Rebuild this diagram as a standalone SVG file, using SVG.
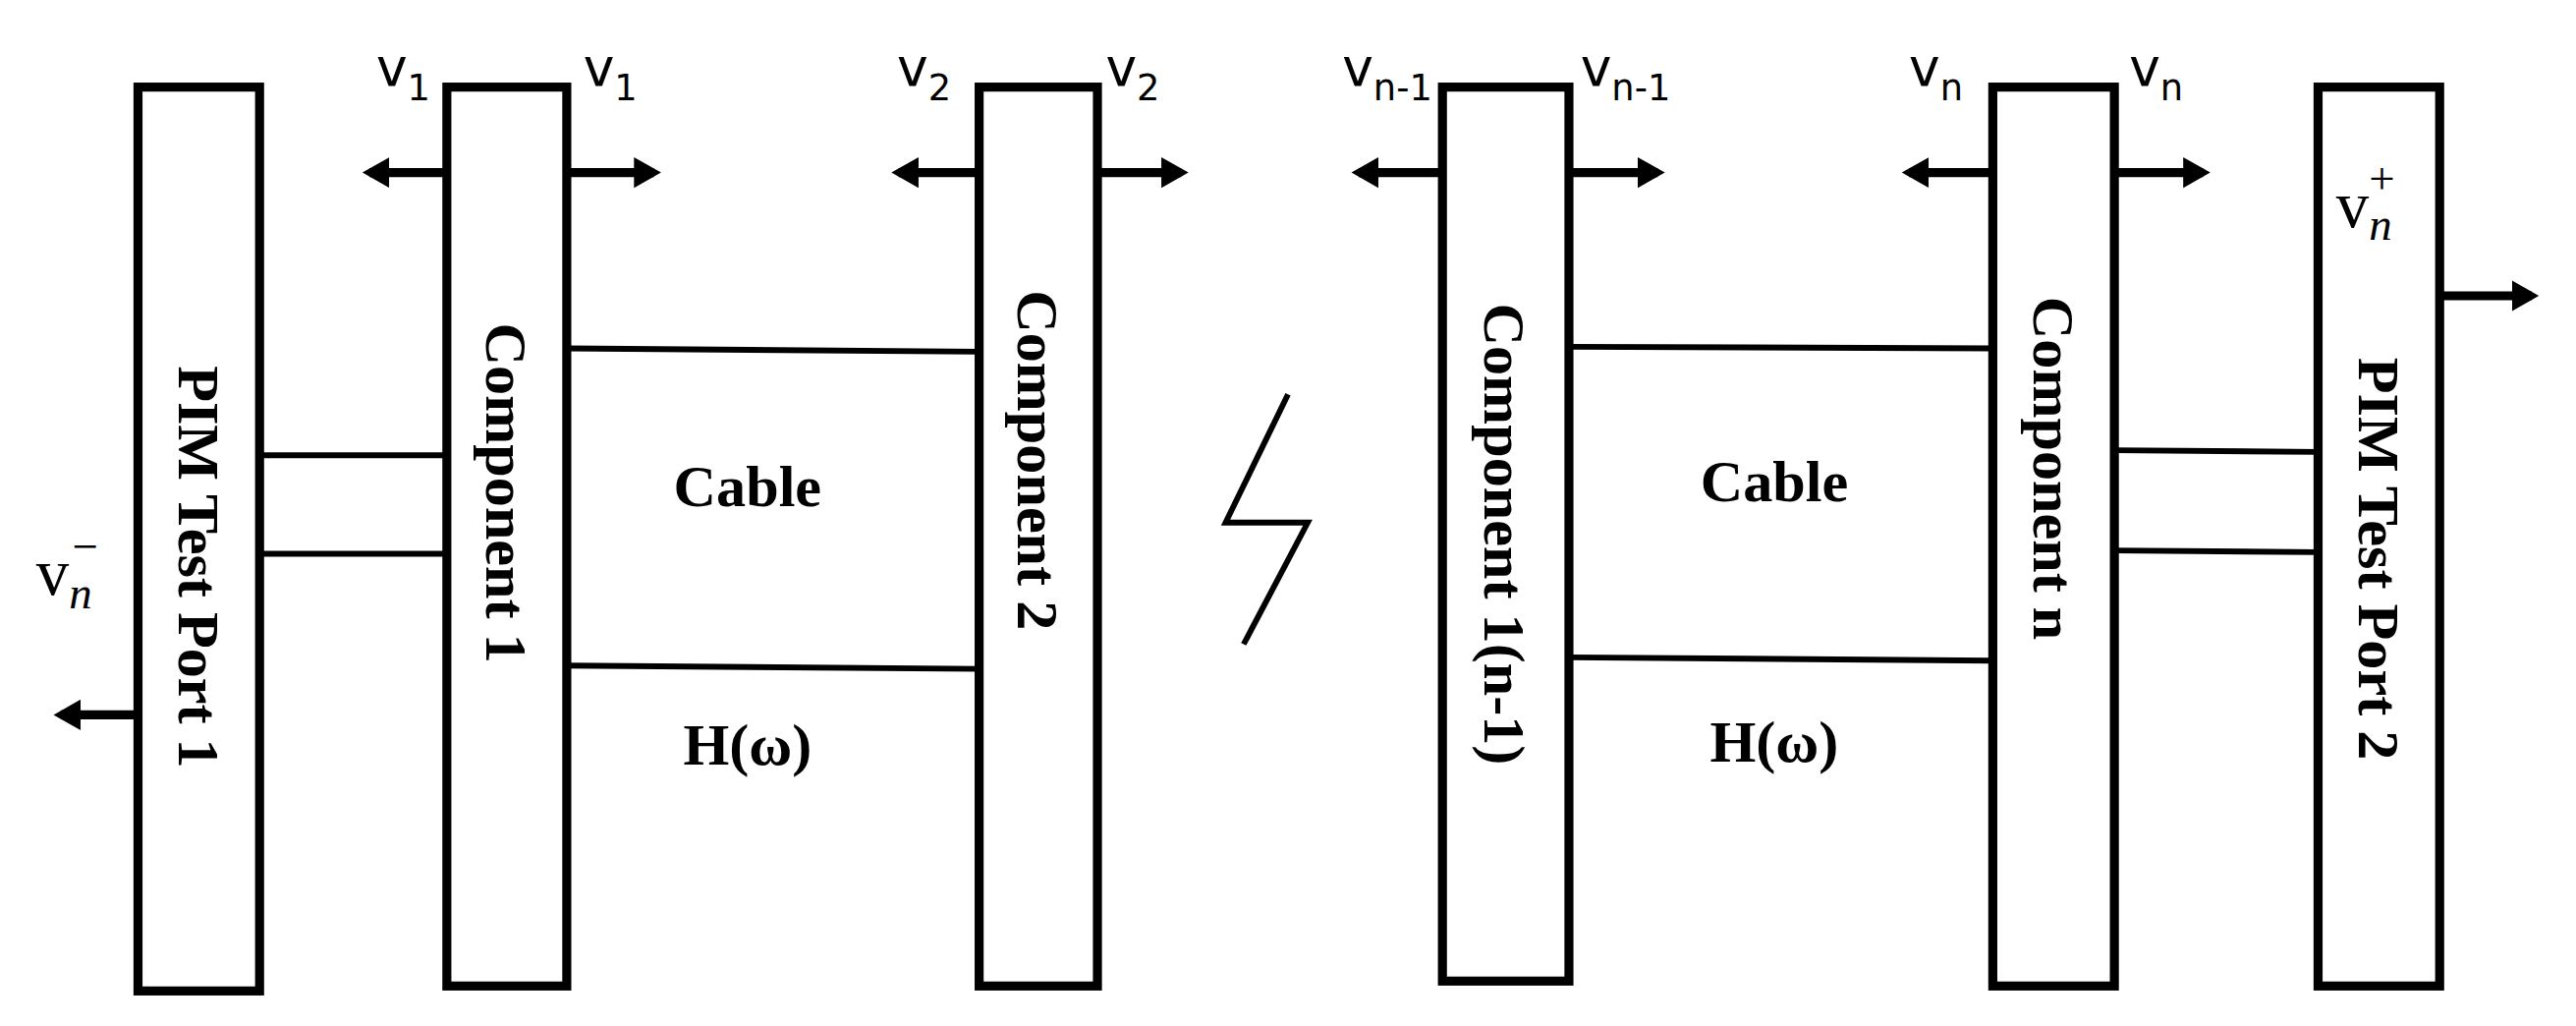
<svg xmlns="http://www.w3.org/2000/svg" width="2622" height="1044" viewBox="0 0 2622 1044">
<style>
.box{fill:#fff;stroke:#000;stroke-width:5.5}
.ln{stroke:#000;stroke-width:3.5;fill:none}
.ar{stroke:#000;stroke-width:5.5;fill:none;marker-end:url(#ah)}
.bt{font-family:"Liberation Serif",serif;font-weight:bold;font-size:36px;text-anchor:middle;dominant-baseline:central}
.v{font-family:"DejaVu Sans",sans-serif;font-size:32px}
.vi{font-family:"Liberation Serif",serif;font-size:40px}
</style>
<defs><marker id="ah" markerWidth="4" markerHeight="4" refX="2.2" refY="2" orient="auto" markerUnits="strokeWidth"><path d="M0,0.3L3,2L0,3.7z" fill="#000"/></marker></defs>
<rect width="2622" height="1044" fill="#fff"/>
<g transform="scale(1.6722)">
<g id="connectors">
<line class="ln" x1="158" y1="277" x2="272" y2="277"/><line class="ln" x1="158" y1="337" x2="272" y2="337"/>
<line class="ln" x1="345" y1="212" x2="596" y2="214"/><line class="ln" x1="345" y1="405" x2="596" y2="407"/>
<line class="ln" x1="955" y1="211" x2="1213" y2="212"/><line class="ln" x1="955" y1="400" x2="1213" y2="402"/>
<line class="ln" x1="1287" y1="274" x2="1411" y2="275"/><line class="ln" x1="1287" y1="335" x2="1411" y2="336"/>
<line class="ar" x1="272" y1="105" x2="225" y2="105"/><line class="ar" x1="345" y1="105" x2="398" y2="105"/>
<line class="ar" x1="596" y1="105" x2="547" y2="105"/><line class="ar" x1="668" y1="105" x2="719" y2="105"/>
<line class="ar" x1="878" y1="105" x2="827" y2="105"/><line class="ar" x1="955" y1="105" x2="1009" y2="105"/>
<line class="ar" x1="1213" y1="105" x2="1162" y2="105"/><line class="ar" x1="1287" y1="105" x2="1341" y2="105"/>
<line class="ar" x1="1485" y1="180" x2="1541" y2="180"/><line class="ar" x1="84" y1="435" x2="37" y2="435"/>
<polyline class="ln" points="784,240 746,318 796,318 757,392"/>
</g>
<g id="pim1"><rect class="box" x="84" y="53" width="74" height="550"/><text class="bt" transform="translate(121,345) rotate(90)">PIM Test Port 1</text></g>
<g id="comp1"><rect class="box" x="272" y="53" width="73" height="547"/><text class="bt" transform="translate(308,300) rotate(90)">Component 1</text></g>
<g id="comp2"><rect class="box" x="596" y="53" width="72" height="547"/><text class="bt" transform="translate(632,280) rotate(90)">Component 2</text></g>
<g id="compn1"><rect class="box" x="878" y="53" width="77" height="544"/><text class="bt" transform="translate(916,325) rotate(90)">Component 1(n-1)</text></g>
<g id="compn"><rect class="box" x="1213" y="53" width="74" height="547"/><text class="bt" transform="translate(1250,285) rotate(90)">Component n</text></g>
<g id="pim2"><rect class="box" x="1411" y="53" width="74" height="547"/><text class="bt" transform="translate(1448,340) rotate(90)">PIM Test Port 2</text></g>
<g id="labels">
<text class="bt" x="455" y="296">Cable</text><text class="bt" x="455" y="453">H(ω)</text>
<text class="bt" x="1080" y="293">Cable</text><text class="bt" x="1080" y="451">H(ω)</text>
<text class="v" x="229" y="52">v<tspan font-size="22" dy="9">1</tspan></text>
<text class="v" x="355" y="52">v<tspan font-size="22" dy="9">1</tspan></text>
<text class="v" x="546" y="52">v<tspan font-size="22" dy="9">2</tspan></text>
<text class="v" x="673" y="52">v<tspan font-size="22" dy="9">2</tspan></text>
<text class="v" x="817" y="52">v<tspan font-size="22" dy="9">n-1</tspan></text>
<text class="v" x="962" y="52">v<tspan font-size="22" dy="9">n-1</tspan></text>
<text class="v" x="1162" y="52">v<tspan font-size="22" dy="9">n</tspan></text>
<text class="v" x="1296" y="52">v<tspan font-size="22" dy="9">n</tspan></text>
<text class="vi" x="1422" y="138">v<tspan font-size="28" font-style="italic" dy="8">n</tspan><tspan font-size="28" dx="-14" dy="-28">+</tspan></text>
<text class="vi" x="22" y="362">v<tspan font-size="28" font-style="italic" dy="8">n</tspan><tspan font-size="28" dx="-12" dy="-28">−</tspan></text>
</g>
</g>
</svg>
